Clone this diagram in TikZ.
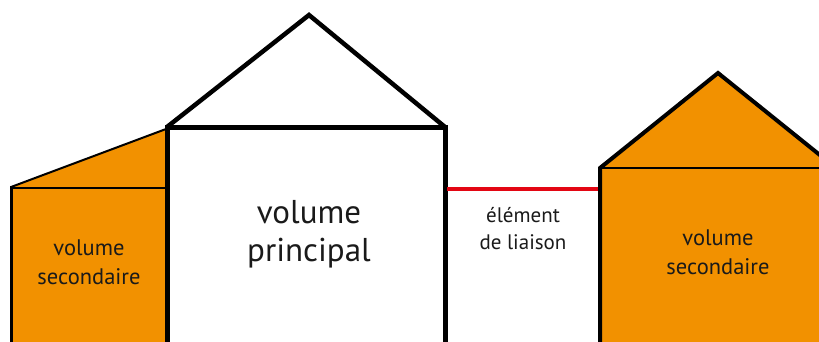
\documentclass[tikz,border=0pt]{standalone}
\usepackage{fontspec}
\setmainfont{PT Sans}
\definecolor{vorange}{HTML}{F29100}
\definecolor{vred}{HTML}{E30613}
\definecolor{vtext}{HTML}{1A1A1A}
\begin{document}
\begin{tikzpicture}[x=1pt,y=-1pt,
  lbl/.style={align=center,text=vtext,inner sep=0pt},
  bigtxt/.style={lbl,font=\fontsize{33}{38}\selectfont},
  midtxt/.style={lbl,font=\fontsize{22.5}{29}\selectfont},
  smalltxt/.style={lbl,font=\fontsize{21}{27}\selectfont}]
\useasboundingbox (0,0) rectangle (819,341);
\begin{scope}
\clip (0,0) rectangle (819,341);
% left secondary volume
\fill[vorange] (11,187) -- (166,129) -- (166,350) -- (11,350) -- cycle;
\draw[line width=1.5] (11,188) -- (166,188);
\draw[line width=2] (11,187) -- (166,129);
\draw[line width=3] (11,186) -- (11,350);
% main volume
\draw[line width=5,line join=miter] (167,350) -- (167,127) -- (445,127) -- (445,350);
\draw[line width=4.5,line join=miter] (167,127) -- (309,15) -- (445,127);
% right secondary volume
\fill[vorange] (600,168) -- (718,73) -- (836,168) -- (836,350) -- (600,350) -- cycle;
\draw[line width=4,line join=miter] (600,350) -- (600,168) -- (718,73) -- (836,168);
\draw[line width=2] (600,168) -- (830,168);
% link
\coordinate (la) at (447,189);
\coordinate (lb) at (598,189);
\draw[vred,line width=4] (la) -- (lb);
\end{scope}
\node[bigtxt] (vp) at (309,234) {volume\\principal};
\node[midtxt] (vs1) at (89,262) {volume\\secondaire};
\node[midtxt] (vs2) at (718,252) {volume\\secondaire};
\node[smalltxt] (el) at (523,229) {élément\\de liaison};
\end{tikzpicture}
\end{document}
